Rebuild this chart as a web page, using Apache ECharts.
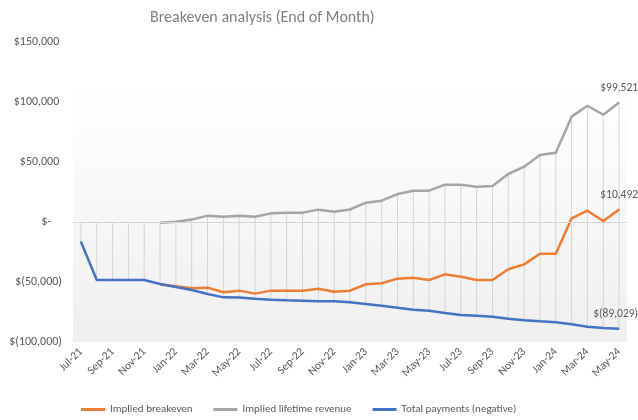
<!DOCTYPE html>
<html><head><meta charset="utf-8">
<script src="https://cdn.jsdelivr.net/npm/echarts@6/dist/echarts.min.js"></script>
<style>html,body{margin:0;padding:0;background:#fff;}#c{width:638px;height:420px;}</style>
</head><body><div id="c"></div>
<script>
const categories = ['Jul-21','Aug-21','Sep-21','Oct-21','Nov-21','Dec-21',
 'Jan-22','Feb-22','Mar-22','Apr-22','May-22','Jun-22','Jul-22','Aug-22','Sep-22','Oct-22','Nov-22','Dec-22',
 'Jan-23','Feb-23','Mar-23','Apr-23','May-23','Jun-23','Jul-23','Aug-23','Sep-23','Oct-23','Nov-23','Dec-23',
 'Jan-24','Feb-24','Mar-24','Apr-24','May-24'];
const impliedBreakeven = [null,null,null,null,null,-52000,
 -53600,-55300,-54700,-58600,-57200,-59700,-57200,-57200,-57200,-55600,-58100,-57200,
 -51900,-51100,-47200,-46400,-48300,-43600,-45600,-48300,-48300,-39400,-35300,-26400,
 -26400,3100,9400,800,10492];
const impliedLifetimeRevenue = [null,null,null,null,null,-600,
 300,2000,5300,4400,5300,4400,7200,7800,7800,10300,8600,10400,
 16100,17800,23300,26100,26100,31100,31100,29400,30000,40000,46100,55800,
 57800,87800,96900,89400,99521];
const totalPayments = [-16400,-48300,-48300,-48300,-48300,-51700,
 -54200,-56700,-60000,-62800,-63000,-63900,-64700,-65300,-65600,-66100,-66100,-66800,
 -68300,-69700,-71400,-73100,-73900,-75800,-77500,-78100,-78900,-80600,-81900,-82800,
 -83600,-85300,-87200,-88300,-89029];
const seriesNames = ['Implied breakeven','Implied lifetime revenue','Total payments (negative)'];
const yTicks = {min:-100000, max:150000, interval:50000};

function money(v){
  if (v === 0) return '$-';
  const s = Math.abs(Math.round(v)).toLocaleString('en-US');
  return v < 0 ? '$(' + s + ')' : '$' + s;
}
function axisMoney(v){
  if (v === 0) return '$-    ';
  return v < 0 ? money(v) : money(v) + ' ';
}
function withLastLabel(arr){
  return arr.map((v,i)=> i === arr.length-1 ? {value:v, label:{show:true}} : v);
}
const hiLo = categories.map((c,i)=>{
  const hi = impliedLifetimeRevenue[i] == null ? 0 : impliedLifetimeRevenue[i];
  return [i, hi, totalPayments[i]];
});
const font = "Carlito, 'Liberation Sans', sans-serif";
const labelStyle = {position:'top', distance:8, align:'right', offset:[19,0], color:'#595959', fontSize:11.5, fontFamily:font, formatter:p=>money(p.value)};

function lineSeries(name, arr, color){
  return {type:'line', name:name, data:withLastLabel(arr), symbol:'circle', symbolSize:1, showSymbol:true, z:3,
    lineStyle:{color:color, width:2.5}, itemStyle:{color:color},
    label:Object.assign({show:false}, labelStyle)};
}

const chart = echarts.init(document.getElementById('c'), null, {renderer:'canvas'});
chart.setOption({
  animation:false,
  title:{text:'Breakeven analysis (End of Month)', left:145, top:5,
    textStyle:{fontSize:16, fontWeight:'normal', color:'#808080', fontFamily:font}},
  grid:{left:73, right:11, top:42, bottom:78, show:true, borderWidth:0,
    backgroundColor:new echarts.graphic.LinearGradient(0,0,0,1,[
      {offset:0,color:'#ffffff'},{offset:0.15,color:'#ffffff'},{offset:1,color:'#efefef'}])},
  legend:{left:76, top:399, itemWidth:24, itemHeight:3, itemGap:21, icon:'rect',
    data:seriesNames,
    textStyle:{color:'#595959', fontSize:11, fontFamily:font}},
  xAxis:{type:'category', data:categories, boundaryGap:true,
    axisLine:{show:false, onZero:false}, axisTick:{show:false},
    axisLabel:{interval:1, rotate:45, color:'#595959', fontSize:11.5, fontFamily:font, margin:8},
    splitLine:{show:false}},
  yAxis:{type:'value', min:yTicks.min, max:yTicks.max, interval:yTicks.interval,
    axisLine:{show:false}, axisTick:{show:false}, splitLine:{show:false},
    axisLabel:{formatter:axisMoney, color:'#595959', fontSize:12, fontFamily:font, margin:11}},
  series:[
    {type:'custom', name:'hilo', data:hiLo, z:1, silent:true,
      renderItem:(params, api)=>{
        const p1 = api.coord([api.value(0), api.value(1)]);
        const p2 = api.coord([api.value(0), api.value(2)]);
        return {type:'line', shape:{x1:p1[0], y1:p1[1], x2:p2[0], y2:p2[1]},
          style:{stroke:'#d4d4d4', lineWidth:1}};
      },
      markLine:{silent:true, symbol:'none', label:{show:false},
        lineStyle:{color:'#d4d4d4', width:1, type:'solid'}, data:[{yAxis:0}]}
    },
    lineSeries(seriesNames[0], impliedBreakeven, '#ED7D31'),
    lineSeries(seriesNames[1], impliedLifetimeRevenue, '#A5A5A5'),
    lineSeries(seriesNames[2], totalPayments, '#4472C4')
  ]
});
</script></body></html>
